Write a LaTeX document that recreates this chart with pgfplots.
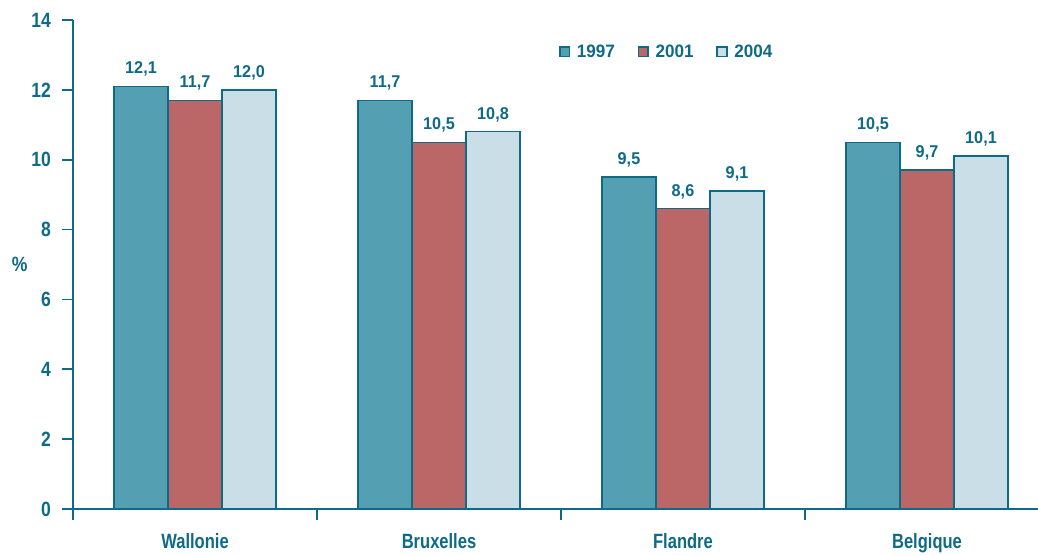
\documentclass[border=0pt]{standalone}
\usepackage{pgfplots}
\pgfplotsset{compat=1.18}
\usepackage{fontspec}
\setmainfont{Liberation Sans}
\newfontfamily\tickfont{Liberation Sans}[FakeStretch=0.85]
\newfontfamily\catfont{Liberation Sans}[FakeStretch=0.8]
\newfontfamily\labfont{Liberation Sans}[FakeStretch=0.95]
\definecolor{tealdark}{HTML}{0E6A87}
\definecolor{cA}{HTML}{559FB3}
\definecolor{cB}{HTML}{BC6767}
\definecolor{cC}{HTML}{C9DEE6}
\begin{document}
\begin{tikzpicture}
\begin{axis}[
  name=ax,
  scale only axis,
  width=732pt, height=366.75pt,
  xmin=-0.5, xmax=3.5,
  ymin=0, ymax=14,
  ytick={0,2,...,14},
  xtick={-0.5,0.5,1.5,2.5,3.5},
  x tick label as interval,
  xticklabels={Wallonie,Bruxelles,Flandre,Belgique},
  axis lines=left,
  axis line style={tealdark, line width=1.3pt, -},
  major tick length=8pt,
  x tick style={tealdark, line width=1.3pt},
  y tick style={tealdark, line width=1.3pt},
  tick align=outside,
  x tick label style={font=\catfont\bfseries\fontsize{15.5}{15.5}\selectfont, text=tealdark, yshift=-6.5pt},
  y tick label style={font=\tickfont\bfseries\fontsize{15.5}{15.5}\selectfont, text=tealdark, xshift=-5pt},
  /pgf/number format/assume math mode=true,
  ylabel={\%},
  ylabel style={rotate=-90, font=\tickfont\bfseries\fontsize{15.5}{15.5}\selectfont, text=tealdark, at={(-40pt,0.5)}, anchor=center},
  ybar, bar width=40.5pt,
  nodes near coords,
  every node near coord/.append style={font=\labfont\bfseries\fontsize{12.8}{12.8}\selectfont, text=tealdark, yshift=3.5pt,
     /pgf/number format/.cd, fixed, fixed zerofill, precision=1, use comma, assume math mode=true},
  legend style={draw=none, fill=none, at={(0.4935,0.935)}, anchor=west, legend columns=3,
     font=\labfont\bfseries\fontsize{13.5}{13.5}\selectfont, text=tealdark,
     /tikz/every odd column/.append style={column sep=3pt},
     /tikz/every even column/.append style={column sep=15pt}},
  legend image code/.code={\draw[#1, draw=tealdark, line width=1.3pt] (0pt,-3.6pt) rectangle (7.2pt,3.6pt);},
  clip=false,
]
\addplot[fill=cA, draw=tealdark, line width=1.1pt, bar shift=-40.5pt] coordinates {(0,12.1) (1,11.7) (2,9.5) (3,10.5)};
\addplot[fill=cB, draw=tealdark, line width=1.1pt, bar shift=0pt] coordinates {(0,11.7) (1,10.5) (2,8.6) (3,9.7)};
\addplot[fill=cC, draw=tealdark, line width=1.1pt, bar shift=40.5pt] coordinates {(0,12.0) (1,10.8) (2,9.1) (3,10.1)};
\legend{1997,2001,2004}
\end{axis}
\pgfresetboundingbox
\path (ax.south west) ++(-54.75pt,-34.5pt) rectangle ++(778.5pt,416.25pt);
\end{tikzpicture}
\end{document}
